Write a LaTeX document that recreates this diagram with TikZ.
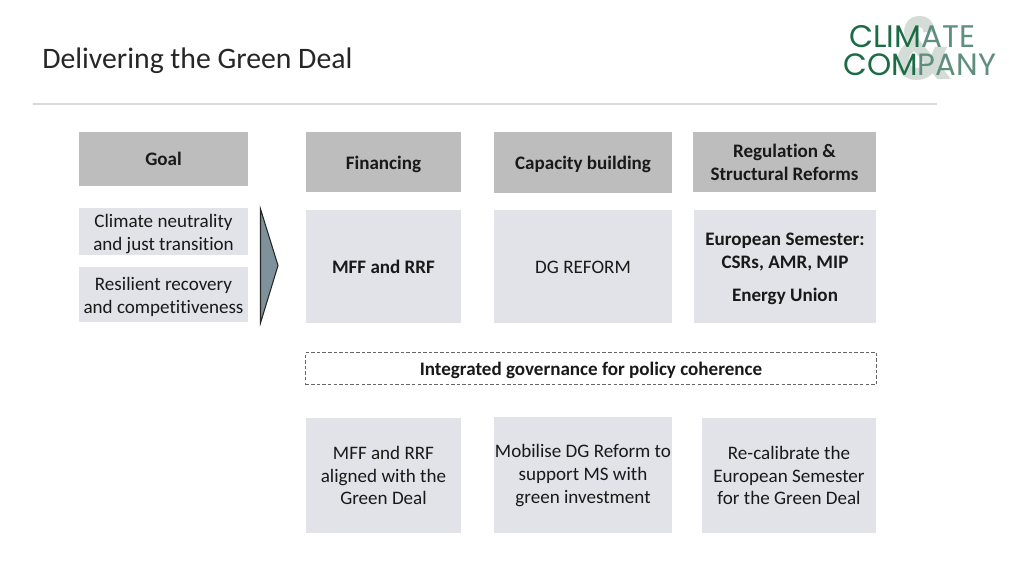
\documentclass[tikz,border=0pt]{standalone}
\usepackage{fontspec}
\setmainfont[RawFeature={-liga;-clig}]{Carlito}
\newfontfamily\logofont{Poppins}
\definecolor{hdr}{HTML}{BDBDBD}
\definecolor{pale}{HTML}{E1E3E8}
\definecolor{rulec}{HTML}{D9D9D9}
\definecolor{arrowc}{HTML}{7F929B}
\definecolor{logod}{HTML}{1B6B45}
\definecolor{logol}{HTML}{5F8F7C}
\definecolor{logoa}{HTML}{D3DCD7}
\tikzset{
  x=0.75pt,y=-0.75pt,
  box/.style={inner sep=0pt,outer sep=0pt,align=center,text=black!90,font=\fontsize{14.3}{17.2}\selectfont},
  hdrbox/.style={box,fill=hdr},
  palebox/.style={box,fill=pale},
  bold/.style={font=\fontsize{14.3}{17.2}\selectfont\bfseries},
}
% style, name, corner, width, height, text, text shift in px
\newcommand{\rbox}[7]{%
  \node[#1,minimum width=#4*0.75pt,minimum height=#5*0.75pt,anchor=north west] (#2) at (#3) {};
  \node[box,#1,fill=none,yshift=-#7*0.75pt] (#2t) at (#2.center) {#6};}
\begin{document}
\begin{tikzpicture}
\useasboundingbox (0,0) rectangle (1024,576);
\fill[white] (0,0) rectangle (1024,576);
\node[anchor=west,inner sep=0pt,font=\fontsize{22.3}{26}\selectfont,text=black!85] (title) at (42,61) {Delivering the Green Deal};
\coordinate (ruleL) at (33,104);
\coordinate (ruleR) at (937,104);
\draw[rulec,line width=0.9pt] (ruleL) -- (ruleR);
% logo
\node[inner sep=0pt,xscale=0.8,font=\fontsize{66}{66}\logofont\bfseries,text=logoa] (amp) at (923.5,48) {\&};
\node[anchor=west,inner sep=0pt,font=\fontsize{23.4}{23}\logofont,text=logod] (logoA) at (849,37) {CLIM\textcolor{logol}{ATE}};
\node[anchor=west,inner sep=0pt,font=\fontsize{23.1}{23}\logofont,text=logod] (logoB) at (843,65) {COM\textcolor{logol}{PANY}};
% headers
\rbox{hdrbox,bold}{goal}{79,132}{169}{54}{Goal}{0}
\rbox{hdrbox,bold}{fin}{306,132}{155}{60}{Financing}{2}
\rbox{hdrbox,bold}{cap}{494,132}{178}{61}{Capacity building}{2}
\rbox{hdrbox,bold}{reg}{693,132}{183}{60}{Regulation \&\\Structural Reforms}{0.5}
% goals
\rbox{palebox}{g1}{79,208}{169}{47}{Climate neutrality\\and just transition}{2.5}
\rbox{palebox}{g2}{79,267}{169}{55}{Resilient recovery\\and competitiveness}{2.5}
\coordinate (aT) at (260.5,209);
\coordinate (aB) at (260.5,323);
\coordinate (aR) at (278,265.5);
\draw[fill=arrowc,draw=black!85,line width=0.8pt,line join=miter] (aT) -- (aR) -- (aB) -- cycle;
% middle
\rbox{palebox,bold}{m1}{306,210}{155}{113}{MFF and RRF}{0.5}
\rbox{palebox}{m2}{494,210}{178}{113}{DG REFORM}{1}
\node[palebox,minimum width=182*0.75pt,minimum height=113*0.75pt,anchor=north west] (m3) at (694,210) {};
\node[box,bold] (m3a) at (785,252) {European Semester:\\CSRs, AMR, MIP};
\node[box,bold] (m3b) at (785,296.5) {Energy Union};
% governance
\node[box,bold,draw=black!60,dash pattern=on 2.6pt off 1.6pt,line width=0.6pt,minimum width=571*0.75pt,minimum height=32*0.75pt,anchor=north west] (gov) at (305.5,352.5) {};
\node[box,bold] (govt) at ([yshift=-1.5pt]gov.center) {Integrated governance for policy coherence};
% bottom
\rbox{palebox}{b1}{306,418}{155}{115}{MFF and RRF\\aligned with the\\Green Deal}{0}
\rbox{palebox}{b2}{494,417}{178}{116}{Mobilise DG Reform to\\support MS with\\green investment}{0.5}
\rbox{palebox}{b3}{702,418}{174}{115}{Re-calibrate the\\European Semester\\for the Green Deal}{0}
\end{tikzpicture}
\end{document}
